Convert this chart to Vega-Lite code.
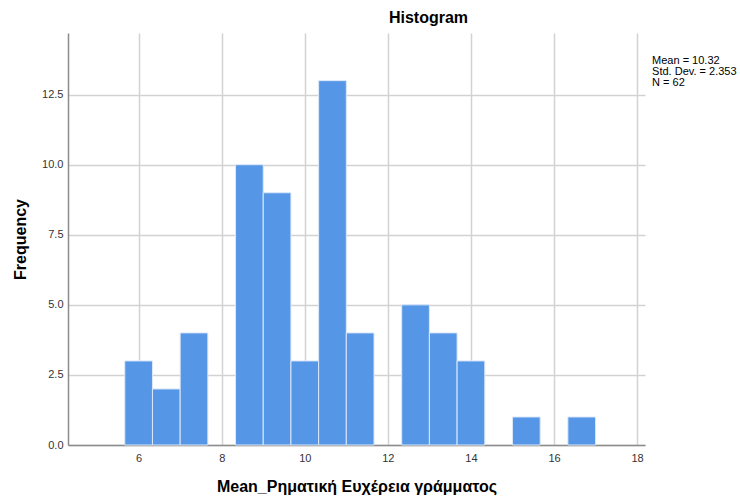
{
  "$schema": "https://vega.github.io/schema/vega-lite/v6.json",
  "width": 577,
  "height": 412,
  "autosize": {"type": "none"},
  "padding": {"left": 68, "top": 33, "right": 95, "bottom": 54},
  "background": "white",
  "config": {
    "view": {"stroke": null},
    "font": "Liberation Sans"
  },
  "title": {
    "text": "Histogram",
    "anchor": "middle",
    "dx": 72,
    "offset": 7,
    "fontSize": 16,
    "fontWeight": "bold",
    "font": "Liberation Sans",
    "color": "#000000"
  },
  "layer": [
    {
      "data": {
        "values": [
          {"bin_start": 5.6667, "bin_end": 6.3333, "count": 3},
          {"bin_start": 6.3333, "bin_end": 7.0, "count": 2},
          {"bin_start": 7.0, "bin_end": 7.6667, "count": 4},
          {"bin_start": 8.3333, "bin_end": 9.0, "count": 10},
          {"bin_start": 9.0, "bin_end": 9.6667, "count": 9},
          {"bin_start": 9.6667, "bin_end": 10.3333, "count": 3},
          {"bin_start": 10.3333, "bin_end": 11.0, "count": 13},
          {"bin_start": 11.0, "bin_end": 11.6667, "count": 4},
          {"bin_start": 12.3333, "bin_end": 13.0, "count": 5},
          {"bin_start": 13.0, "bin_end": 13.6667, "count": 4},
          {"bin_start": 13.6667, "bin_end": 14.3333, "count": 3},
          {"bin_start": 15.0, "bin_end": 15.6667, "count": 1},
          {"bin_start": 16.3333, "bin_end": 17.0, "count": 1}
        ]
      },
      "mark": {"type": "rect", "color": "#5596e6", "stroke": "#dbe8fa", "strokeWidth": 1},
      "encoding": {
        "x": {
          "field": "bin_start",
          "type": "quantitative",
          "scale": {"domain": [4.3, 18.19], "nice": false, "zero": false},
          "axis": {
            "values": [6, 8, 10, 12, 14, 16, 18],
            "format": "d",
            "title": "Mean_Ρηματική Ευχέρεια γράμματος",
            "titleFontSize": 16,
            "titleFontWeight": "bold",
            "titleColor": "#000000",
            "titlePadding": 15,
            "labelFontSize": 11,
            "labelColor": "#333333",
            "labelPadding": 7,
            "ticks": false,
            "domainColor": "#8c8c8c",
            "domainWidth": 1.5,
            "grid": true,
            "gridColor": "#d2d2d2",
            "gridWidth": 1.5
          }
        },
        "x2": {"field": "bin_end"},
        "y": {
          "field": "count",
          "type": "quantitative",
          "scale": {"domain": [0, 14.7], "nice": false},
          "axis": {
            "values": [0, 2.5, 5, 7.5, 10, 12.5],
            "format": ".1f",
            "title": "Frequency",
            "titleFontSize": 16,
            "titleFontWeight": "bold",
            "titleColor": "#000000",
            "titlePadding": 13,
            "labelFontSize": 11,
            "labelColor": "#333333",
            "labelPadding": 5,
            "ticks": false,
            "domainColor": "#8c8c8c",
            "domainWidth": 1.5,
            "grid": true,
            "gridColor": "#d2d2d2",
            "gridWidth": 1.5
          }
        },
        "y2": {"datum": 0}
      }
    },
    {
      "data": {"values": [{"stats": "Mean = 10.32\nStd. Dev. = 2.353\nN = 62"}]},
      "mark": {
        "type": "text",
        "align": "left",
        "baseline": "top",
        "fontSize": 11,
        "lineHeight": 11,
        "lineBreak": "\n",
        "color": "#000000",
        "clip": false
      },
      "encoding": {
        "text": {"field": "stats"},
        "x": {"datum": 18.36},
        "y": {"datum": 13.9}
      }
    }
  ]
}
